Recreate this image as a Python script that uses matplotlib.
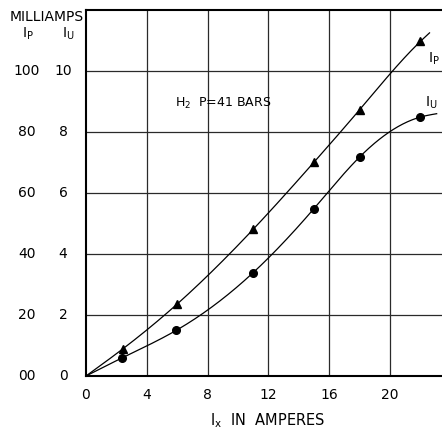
import numpy as np
import matplotlib
matplotlib.use("Agg")
import matplotlib.pyplot as plt
from matplotlib.transforms import blended_transform_factory

# ---- data ----
ix_p = [2.45, 6.0, 11.0, 15.0, 18.0, 22.0]       # Ix (amperes) for Ip points
ip_vals = [9.0, 23.6, 48.1, 70.1, 87.3, 109.7]    # Ip (milliamps)
ix_u = [2.4, 5.95, 11.0, 15.0, 18.0, 22.0]        # Ix for Iu points
iu_vals = [6.0, 15.0, 33.9, 54.9, 71.8, 84.9]     # Iu on the Ip scale (x10)

# curve ends (where the drawn curves stop)
ip_curve_end = (22.6, 112.5)
iu_curve_end = (23.07, 86.0)

x_ticks = [0, 4, 8, 12, 16, 20]
y_ticks = [0, 20, 40, 60, 80, 100]
ip_labels = ["00", "20", "40", "60", "80", "100"]
iu_labels = ["0", "2", "4", "6", "8", "10"]


def nat_spline(x, y, xn):
    x = np.asarray(x, float); y = np.asarray(y, float)
    n = len(x); h = np.diff(x)
    A = np.zeros((n, n)); b = np.zeros(n)
    A[0, 0] = 1; A[-1, -1] = 1
    for i in range(1, n - 1):
        A[i, i - 1] = h[i - 1]; A[i, i] = 2 * (h[i - 1] + h[i]); A[i, i + 1] = h[i]
        b[i] = 6 * ((y[i + 1] - y[i]) / h[i] - (y[i] - y[i - 1]) / h[i - 1])
    M = np.linalg.solve(A, b)
    idx = np.clip(np.searchsorted(x, xn) - 1, 0, n - 2)
    xi = x[idx]; xi1 = x[idx + 1]; hi = h[idx]
    return (M[idx] * (xi1 - xn) ** 3 / (6 * hi) + M[idx + 1] * (xn - xi) ** 3 / (6 * hi)
            + (y[idx] / hi - M[idx] * hi / 6) * (xi1 - xn)
            + (y[idx + 1] / hi - M[idx + 1] * hi / 6) * (xn - xi))


fig = plt.figure(figsize=(4.42, 4.29), dpi=100)
ax = fig.add_axes([86 / 442, 1 - 376 / 429, 1 - 86 / 442, (376 - 10) / 429])
ax.set_xlim(0, (442 - 86) / 15.2)
ax.set_ylim(0, 120)

for xv in x_ticks[1:]:
    ax.axvline(xv, color="#2a2a2a", lw=0.9, zorder=1)
for yv in y_ticks[1:]:
    ax.axhline(yv, color="#2a2a2a", lw=0.9, zorder=1)

for s in ["left", "top", "bottom"]:
    ax.spines[s].set_linewidth(1.5)
    ax.spines[s].set_color("black")
ax.spines["right"].set_visible(False)
ax.set_xticks([]); ax.set_yticks([])

# curves
cx = [0.0] + ix_p + [ip_curve_end[0]]
cy = [0.0] + ip_vals + [ip_curve_end[1]]
xs = np.linspace(0, ip_curve_end[0], 300)
ax.plot(xs, nat_spline(cx, cy, xs), color="black", lw=0.9, zorder=3)
cx = [0.0] + ix_u + [iu_curve_end[0]]
cy = [0.0] + iu_vals + [iu_curve_end[1]]
xs = np.linspace(0, iu_curve_end[0], 300)
ax.plot(xs, nat_spline(cx, cy, xs), color="black", lw=0.9, zorder=3)

ax.plot(ix_p, ip_vals, linestyle="none", marker="^", ms=5.5, color="black", zorder=4)
ax.plot(ix_u, iu_vals, linestyle="none", marker="o", ms=5.5, color="black", zorder=4)

# tick labels
fs = 10
trans_y = blended_transform_factory(fig.transFigure, ax.transData)
for yv, l1, l2 in zip(y_ticks, ip_labels, iu_labels):
    ax.text(27 / 442, yv, l1, transform=trans_y, ha="center", va="center", fontsize=fs)
    ax.text(63 / 442, yv, l2, transform=trans_y, ha="center", va="center", fontsize=fs)
trans_x = blended_transform_factory(ax.transData, fig.transFigure)
for xv in x_ticks:
    ax.text(xv, 1 - 395 / 429, str(xv), transform=trans_x, ha="center", va="center", fontsize=fs)

fig.text(47 / 442, 1 - 17 / 429, "MILLIAMPS", ha="center", va="center", fontsize=fs)
fig.text(28 / 442, 1 - 34 / 429, r"I$_\mathregular{P}$", ha="center", va="center", fontsize=fs)
fig.text(68 / 442, 1 - 34 / 429, r"I$_\mathregular{U}$", ha="center", va="center", fontsize=fs)
fig.text(268 / 442, 1 - 421 / 429, r"I$_\mathregular{x}$  IN  AMPERES", ha="center", va="center", fontsize=10.5)

ax.text(9.0, 89.2, r"H$_\mathregular{2}$  P=41 BARS", ha="center", va="center", fontsize=9)
ax.text(22.9, 104, r"I$_\mathregular{P}$", ha="center", va="center", fontsize=fs)
ax.text(22.7, 89.5, r"I$_\mathregular{U}$", ha="center", va="center", fontsize=fs)

fig.savefig("out.png", dpi=100)
